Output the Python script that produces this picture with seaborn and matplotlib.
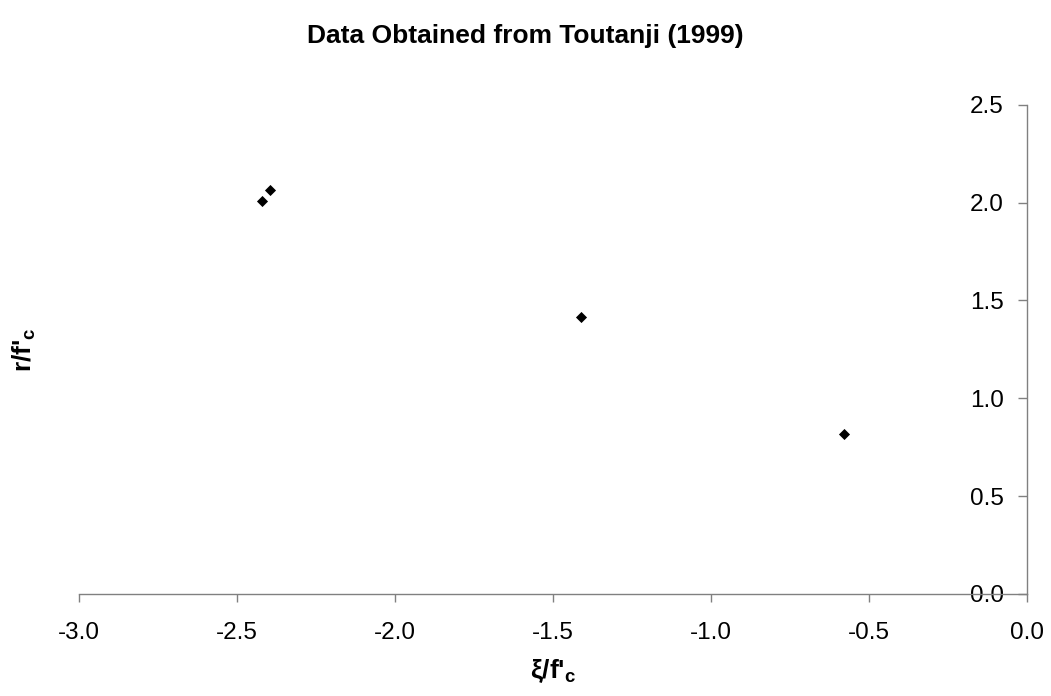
import matplotlib
matplotlib.use("Agg")
import pandas as pd
import seaborn as sns
import matplotlib.pyplot as plt

xi_fc = [-2.422, -2.397, -1.413, -0.580]
r_fc = [2.010, 2.066, 1.413, 0.816]
x_ticks = [-3.0, -2.5, -2.0, -1.5, -1.0, -0.5, 0.0]
y_ticks = [0.0, 0.5, 1.0, 1.5, 2.0, 2.5]

df = pd.DataFrame({'xi': xi_fc, 'r': r_fc})

sns.set_style('white')
plt.rcParams['font.family'] = ['Liberation Sans', 'DejaVu Sans']
plt.rcParams['mathtext.fontset'] = 'custom'
plt.rcParams['mathtext.rm'] = 'Liberation Sans'
plt.rcParams['mathtext.bf'] = 'Liberation Sans:bold'
plt.rcParams['text.color'] = 'black'
plt.rcParams['axes.labelcolor'] = 'black'
plt.rcParams['xtick.color'] = 'black'
plt.rcParams['ytick.color'] = 'black'

fig = plt.figure(figsize=(10.51, 6.96), dpi=100)
ax = fig.add_axes([0.0755, 0.1466, 0.9015, 0.703])

sns.scatterplot(data=df, x='xi', y='r', marker='D', s=32, color='black',
                edgecolor='black', linewidth=0, ax=ax)

ax.set_xlim(-3.0, 0.0)
ax.set_ylim(0.0, 2.5)
ax.set_xticks(x_ticks)
ax.set_yticks(y_ticks)
ax.set_xticklabels([f'{t:.1f}' for t in x_ticks])
ax.set_yticklabels([f'{t:.1f}' for t in y_ticks])

# y axis sits at x = 0 on the right, labels on its left
ax.spines['left'].set_position(('data', 0.0))
ax.spines['right'].set_visible(False)
ax.spines['top'].set_visible(False)
for s in ['left', 'bottom']:
    ax.spines[s].set_color('#808080')
    ax.spines[s].set_linewidth(1.0)

ax.tick_params(axis='y', direction='out', length=6.5, width=1.0, color='#808080',
               labelcolor='black', pad=10, labelsize=17.5, left=True)
ax.tick_params(axis='x', direction='out', length=6, width=1.0, color='#808080',
               labelcolor='black', pad=14, labelsize=17.5, bottom=True)

ax.set_xlabel("ξ/f'$_\\mathbf{c}$", fontsize=19, fontweight='bold', labelpad=10)
ax.set_ylabel('')
# y label stays at the far left of the figure
fig.text(24 / 1051, 0.1466 + 0.703 / 2, "r/f'$_\\mathbf{c}$", fontsize=19,
         fontweight='bold', rotation=90, ha='center', va='center')

fig.suptitle('Data Obtained from Toutanji (1999)', fontsize=19, fontweight='bold',
             y=0.965, color='black')

fig.savefig('out.png', dpi=100)
